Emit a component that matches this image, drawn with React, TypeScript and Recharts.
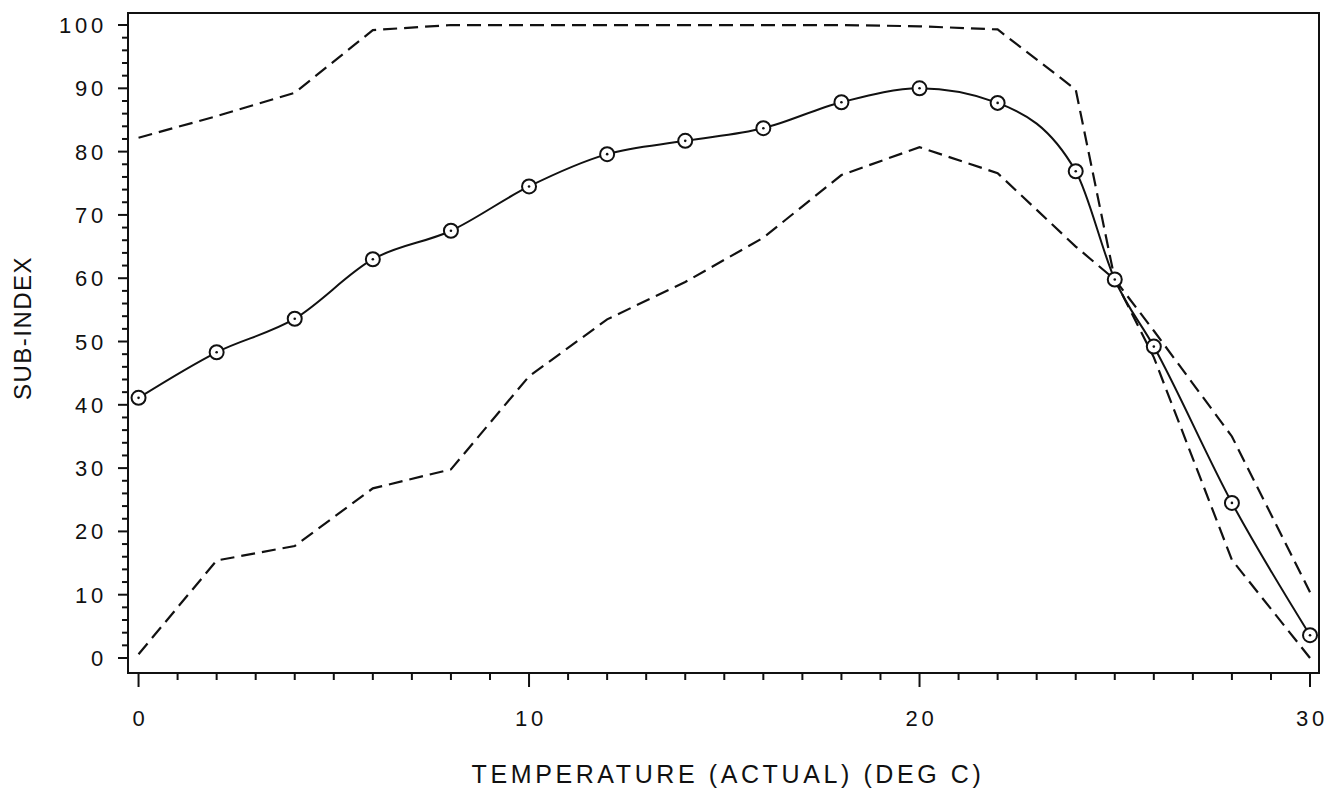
import React from "react";
import { LineChart, Line, XAxis, YAxis, ReferenceArea } from "recharts";

// temperature (deg C) and the three curves
const temps = [0, 2, 4, 6, 8, 10, 12, 14, 16, 18, 20, 22, 24, 25, 26, 28, 30];
const subIndex = [41.1, 48.3, 53.6, 63, 67.5, 74.5, 79.6, 81.7, 83.7, 87.8, 90, 87.7, 76.9, 59.8, 49.2, 24.5, 3.6];
const upperBound = [82.2, 85.6, 89.3, 99.2, 100, 100, 100, 100, 100, 100, 99.8, 99.3, 89.8, 59.8, 47.5, 15.5, 0];
const lowerBound = [0.6, 15.4, 17.7, 26.8, 29.8, 44.5, 53.5, 59.4, 66.4, 76.3, 80.7, 76.6, 65, 59.8, 51.7, 35, 10.4];

const xTicks = [0, 1, 2, 3, 4, 5, 6, 7, 8, 9, 10, 11, 12, 13, 14, 15, 16, 17, 18, 19, 20, 21, 22, 23, 24, 25, 26, 27, 28, 29, 30];
const xTickLabels = [0, 10, 20, 30];
const yTicks = [0, 2, 4, 6, 8, 10, 12, 14, 16, 18, 20, 22, 24, 26, 28, 30, 32, 34, 36, 38, 40, 42, 44, 46, 48, 50, 52, 54, 56, 58, 60, 62, 64, 66, 68, 70, 72, 74, 76, 78, 80, 82, 84, 86, 88, 90, 92, 94, 96, 98, 100];
const yTickLabels = [0, 10, 20, 30, 40, 50, 60, 70, 80, 90, 100];

const X_MIN = -0.27;
const X_MAX = 30.23;
const Y_MIN = -2.37;
const Y_MAX = 101.9;

const INK = "#111";
const FONT = "'Liberation Sans', Arial, sans-serif";

const data = temps.map((t, i) => ({
  t,
  main: subIndex[i],
  upper: upperBound[i],
  lower: lowerBound[i],
}));

const XTick = (props: any) => {
  const { x, y, payload } = props;
  const major = xTickLabels.includes(payload.value);
  return (
    <g>
      <line x1={x} y1={y} x2={x} y2={y + (major ? 14 : 7)} stroke={INK} strokeWidth={2} />
      {major && (
        <text x={x + 2} y={y + 53} textAnchor="middle" fontSize={22} letterSpacing={3.8} fill={INK} fontFamily={FONT}>
          {payload.value}
        </text>
      )}
    </g>
  );
};

const YTick = (props: any) => {
  const { x, y, payload } = props;
  const major = yTickLabels.includes(payload.value);
  return (
    <g>
      <line x1={x - (major ? 10 : 6)} y1={y} x2={x} y2={y} stroke={INK} strokeWidth={2} />
      {major && (
        <text x={x - 21} y={y + 8} textAnchor="end" fontSize={22} letterSpacing={3.8} fill={INK} fontFamily={FONT}>
          {payload.value}
        </text>
      )}
    </g>
  );
};

const CircleDot = (props: any) => {
  const { cx, cy, index } = props;
  if (cx == null || cy == null) return <g key={index} />;
  return (
    <g key={index}>
      <circle cx={cx} cy={cy} r={7} fill="#fff" stroke={INK} strokeWidth={2} />
      <circle cx={cx} cy={cy} r={1.3} fill={INK} />
    </g>
  );
};

export default function App() {
  return (
    <div style={{ position: "absolute", left: 0, top: 0, background: "#fff" }}>
      <LineChart width={1330} height={789} data={data} margin={{ top: 13, right: 11, left: 0, bottom: 0 }}>
        <XAxis
          dataKey="t"
          type="number"
          domain={[X_MIN, X_MAX]}
          ticks={xTicks}
          interval={0}
          allowDataOverflow
          height={116}
          axisLine={false}
          tickLine={false}
          tickSize={0}
          tickMargin={0}
          tick={<XTick />}
          label={{
            content: () => (
              <text x={728} y={783} textAnchor="middle" fontSize={25} letterSpacing={3.6} fill={INK} fontFamily={FONT}>
                TEMPERATURE (ACTUAL) (DEG C)
              </text>
            ),
          }}
        />
        <YAxis
          type="number"
          domain={[Y_MIN, Y_MAX]}
          ticks={yTicks}
          interval={0}
          allowDataOverflow
          width={128}
          axisLine={false}
          tickLine={false}
          tickSize={0}
          tickMargin={0}
          tick={<YTick />}
          label={{
            content: () => (
              <text
                x={31}
                y={328}
                transform="rotate(-90 31 328)"
                textAnchor="middle"
                fontSize={24}
                letterSpacing={1.5}
                fill={INK}
                fontFamily={FONT}
              >
                SUB-INDEX
              </text>
            ),
          }}
        />
        <ReferenceArea x1={X_MIN} x2={X_MAX} y1={Y_MIN} y2={Y_MAX} fill="none" stroke={INK} strokeWidth={2} ifOverflow="visible" />
        <Line dataKey="upper" type="linear" stroke={INK} strokeWidth={2.2} strokeDasharray="14 7" dot={false} isAnimationActive={false} />
        <Line dataKey="lower" type="linear" stroke={INK} strokeWidth={2.2} strokeDasharray="14 7" dot={false} isAnimationActive={false} />
        <Line dataKey="main" type="monotone" stroke={INK} strokeWidth={2} dot={CircleDot} isAnimationActive={false} />
      </LineChart>
    </div>
  );
}
